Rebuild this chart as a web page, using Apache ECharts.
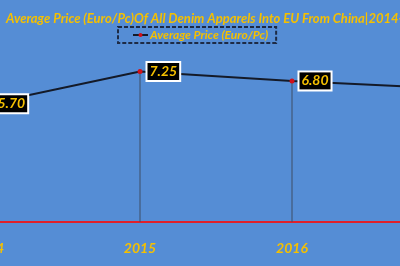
<!DOCTYPE html>
<html><head><meta charset="utf-8">
<script src="https://cdn.jsdelivr.net/npm/echarts@6/dist/echarts.min.js"></script>
<style>html,body{margin:0;padding:0;background:#558DD5;overflow:hidden;width:400px;height:266px;position:relative}#c{position:absolute;left:-12px;top:0;width:456px;height:266px}</style>
</head><body><div id="c"></div>
<script>
var categories = ['2014', '2015', '2016', '2017'];
var avgPrice = [5.70, 7.25, 6.80, 6.45];
var seriesName = 'Average Price (Euro/Pc)';
var titleText = 'Average Price (Euro/Pc)Of All Denim Apparels Into EU From China|2014-2017';

var gold = '#F5C000';
var font = 'Lato';
var chart = echarts.init(document.getElementById('c'));
chart.setOption({
  backgroundColor: '#558DD5',
  animation: false,
  title: {
    text: titleText, left: 13, top: 7,
    textStyle: {color: gold, fontFamily: font, fontStyle: 'italic', fontWeight: 'bold', fontSize: 13}
  },
  legend: {
    data: [seriesName], left: 130, top: 27, width: 160, height: 14,
    padding: [2, 8, 2, 14],
    borderColor: '#1E2B45', borderWidth: 2, borderType: [4, 2],
    itemWidth: 15, itemHeight: 5, itemGap: 2,
    textStyle: {color: gold, fontFamily: font, fontStyle: 'italic', fontWeight: 'bold', fontSize: 12, padding: [0, 0, 0, -3]}
  },
  grid: {left: 0, right: 0, top: 56, bottom: 44, outerBoundsMode: 'none', containLabel: false},
  xAxis: {
    type: 'category', data: categories, boundaryGap: false,
    axisLine: {show: true, lineStyle: {color: '#E0202A', width: 2}},
    axisTick: {show: false},
    splitLine: {show: false},
    axisLabel: {color: gold, fontFamily: font, fontStyle: 'italic', fontWeight: 'bold', fontSize: 14, margin: 19,
      showMinLabel: true, showMaxLabel: true, hideOverlap: false}
  },
  yAxis: {type: 'value', min: 0, max: 8, show: false, splitLine: {show: false}},
  series: [
    {
      type: 'bar', data: avgPrice, barWidth: 1, silent: true,
      itemStyle: {color: '#3E4E66'}, legendHoverLink: false, z: 1
    },
    {
      name: seriesName, type: 'line', data: avgPrice, z: 3,
      symbol: 'circle', symbolSize: 5,
      itemStyle: {color: '#D0101A'},
      lineStyle: {color: '#141A28', width: 2},
      label: {
        show: true, position: 'right', distance: 5,
        formatter: function (p) { return p.value.toFixed(2); },
        color: gold, fontFamily: font, fontStyle: 'italic', fontWeight: 'bold', fontSize: 14,
        backgroundColor: '#000', borderColor: '#FFFFFF', borderWidth: 2,
        padding: [2, 2, 1, 2]
      }
    }
  ]
});
</script></body></html>
